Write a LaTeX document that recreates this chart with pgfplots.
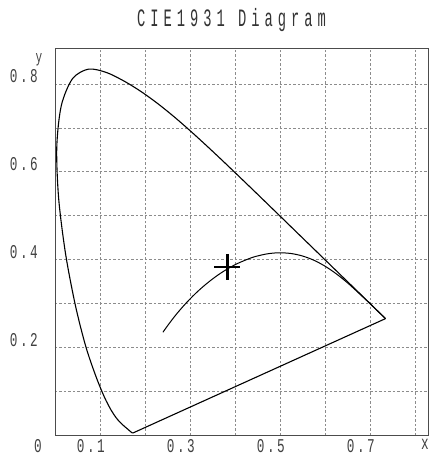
\documentclass[border=0pt]{standalone}
\usepackage{fontspec}
\usepackage{pgfplots}
\pgfplotsset{compat=1.18}
\newfontfamily\titlefont{Liberation Mono}[FakeStretch=0.55, LetterSpace=20]
\newfontfamily\tickfont{Liberation Mono}[FakeStretch=0.65, LetterSpace=13]

% CIE 1931 2-degree spectral locus, 380--700 nm
\pgfplotstableread{
x y
0.1741 0.0050
0.1740 0.0050
0.1738 0.0049
0.1736 0.0049
0.1733 0.0048
0.1730 0.0048
0.1726 0.0048
0.1721 0.0048
0.1714 0.0051
0.1703 0.0058
0.1689 0.0069
0.1669 0.0086
0.1644 0.0109
0.1611 0.0138
0.1566 0.0177
0.1510 0.0227
0.1440 0.0297
0.1355 0.0399
0.1241 0.0578
0.1096 0.0868
0.0913 0.1327
0.0687 0.2007
0.0454 0.2950
0.0235 0.4127
0.0082 0.5384
0.0039 0.6548
0.0139 0.7502
0.0389 0.8120
0.0743 0.8338
0.1142 0.8262
0.1547 0.8059
0.1929 0.7816
0.2296 0.7543
0.2658 0.7243
0.3016 0.6923
0.3373 0.6589
0.3731 0.6245
0.4087 0.5896
0.4441 0.5547
0.4788 0.5202
0.5125 0.4866
0.5448 0.4544
0.5752 0.4242
0.6029 0.3965
0.6270 0.3725
0.6482 0.3514
0.6658 0.3340
0.6801 0.3197
0.6915 0.3083
0.7006 0.2993
0.7079 0.2920
0.7140 0.2859
0.7190 0.2809
0.7230 0.2770
0.7260 0.2740
0.7283 0.2717
0.7300 0.2700
0.7320 0.2680
0.7334 0.2666
0.7347 0.2653
}\locus

% line of purples
\pgfplotstableread{
x y
0.7347 0.2653
0.1741 0.0050
}\purples

% Planckian locus, infinity down to ~400 K
\pgfplotstableread{
x y
0.2399 0.2342
0.2451 0.2418
0.2501 0.2489
0.2565 0.2577
0.2637 0.2674
0.2719 0.2779
0.2807 0.2884
0.2869 0.2956
0.2952 0.3048
0.3064 0.3166
0.3135 0.3237
0.3221 0.3318
0.3325 0.3411
0.3451 0.3516
0.3608 0.3636
0.3805 0.3768
0.4053 0.3907
0.4369 0.4041
0.4525 0.4086
0.4685 0.4123
0.4862 0.4147
0.5056 0.4152
0.5267 0.4133
0.5493 0.4082
0.5732 0.3993
0.5985 0.3858
0.6251 0.3674
0.6528 0.3444
0.6900 0.3092
0.7050 0.2945
0.7190 0.2805
0.7280 0.2718
0.7347 0.2653
}\planck

\begin{document}
\begin{tikzpicture}
\begin{axis}[
    scale only axis,
    width=373pt, height=387pt,
    xmin=0, xmax=0.829,
    ymin=0, ymax=0.882,
    axis line style={draw=black!70, line width=0.8pt},
    major tick length=0pt,
    xtick={0.1,0.2,0.3,0.4,0.5,0.6,0.7,0.8},
    xticklabels={0.1,,0.3,,0.5,,0.7,},
    ytick={0.1,0.2,0.3,0.4,0.5,0.6,0.7,0.8},
    yticklabels={,0.2,,0.4,,0.6,,0.8},
    xticklabel style={font=\tickfont\fontsize{19.5}{22}\selectfont,
        text=black!75, anchor=north east, inner sep=0pt, xshift=5pt, yshift=-4pt},
    yticklabel style={font=\tickfont\fontsize{19.5}{22}\selectfont,
        text=black!75, anchor=base east, inner sep=0pt, xshift=-17pt, yshift=1pt},
    grid=major,
    major grid style={draw=black!45, dash pattern=on 2.5pt off 2pt, line width=0.6pt},
    title={CIE1931 Diagram},
    title style={font=\titlefont\fontsize{25}{28}\selectfont, text=black!80,
        at={(0.5,1)}, anchor=base, yshift=15pt, xshift=-10pt},
    clip=false,
]
\addplot[black, line width=1.1pt, smooth] table[x=x, y=y] {\locus};
\addplot[black, line width=1.1pt] table[x=x, y=y] {\purples};
\addplot[black, line width=1pt, smooth] table[x=x, y=y] {\planck};
\addplot[only marks, mark=+, mark size=13pt, mark options={line width=2.5pt}, black]
    coordinates {(0.383,0.383)};
\node[font=\tickfont\fontsize{19.5}{22}\selectfont, text=black!75, anchor=north, inner sep=0pt]
    at ([shift={(-17pt,-4pt)}]rel axis cs:0,0) {0};
\node[font=\tickfont\fontsize{19.5}{22}\selectfont, text=black!75, anchor=north, inner sep=0pt]
    at ([shift={(-3pt,-4pt)}]rel axis cs:1,0) {x};
\node[font=\tickfont\fontsize{17}{20}\selectfont, text=black!75, anchor=center, inner sep=0pt]
    at ([shift={(-16pt,-12pt)}]rel axis cs:0,1) {y};
\end{axis}
\pgfresetboundingbox
\path ([shift={(-55pt,-21pt)}]current axis.south west) rectangle ([shift={(1pt,48pt)}]current axis.north east);
\end{tikzpicture}
\end{document}
